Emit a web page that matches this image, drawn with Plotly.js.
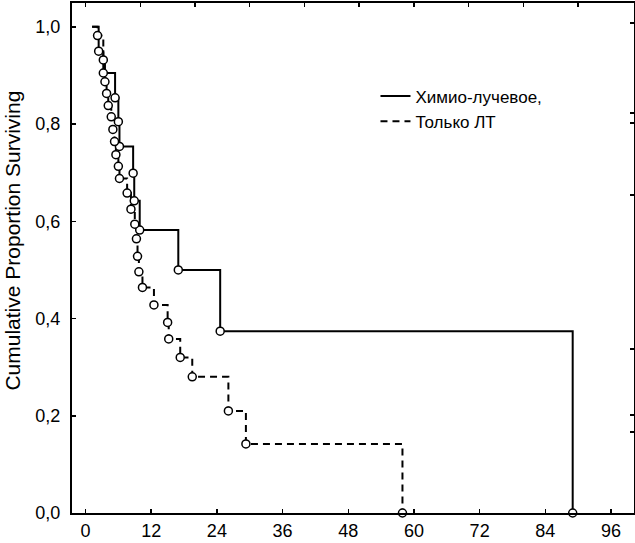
<!DOCTYPE html>
<html>
<head>
<meta charset="utf-8">
<script src="https://cdn.plot.ly/plotly-3.0.1.min.js"></script>
<style>
html,body{margin:0;padding:0;background:#fff;}
#chart{width:635px;height:543px;}
</style>
</head>
<body>
<div id="chart"></div>
<script>
// Series names
const seriesNames = ["Химио-лучевое,", "Только ЛТ"];
const yTitle = "Cumulative Proportion Surviving";

// Start of follow-up (both curves start at S = 1)
const startTime = 1.2;
const startSurv = 1.0;

// Химио-лучевое (solid): event times (months) and survival after each event
const chemoTimes = [2.4, 3.25, 5.4, 6.0, 6.2, 8.7, 8.9, 9.9, 16.95, 24.6, 89.0];
const chemoSurv  = [0.95, 0.905, 0.854, 0.805, 0.754, 0.699, 0.642, 0.582, 0.500, 0.374, 0.0];

// Только ЛТ (dashed): event times (months) and survival after each event
const rtTimes = [2.2, 3.25, 3.55, 3.85, 4.15, 4.7, 5.0, 5.3, 5.55, 6.0, 6.2, 7.6, 8.3, 9.0, 9.3, 9.5, 9.75, 10.4, 12.5, 15.0, 15.2, 17.3, 19.5, 26.1, 29.3, 57.9];
const rtSurv  = [0.982, 0.932, 0.887, 0.863, 0.838, 0.815, 0.789, 0.764, 0.737, 0.713, 0.688, 0.658, 0.625, 0.594, 0.564, 0.528, 0.496, 0.464, 0.428, 0.392, 0.358, 0.320, 0.280, 0.210, 0.142, 0.0];

// Axis ticks
const xTicks = [0, 12, 24, 36, 48, 60, 72, 84, 96];
const yTicks = [0, 0.2, 0.4, 0.6, 0.8, 1.0];
const topTicks = [0, 10, 20, 30, 40, 50, 60, 70, 80, 90];

const FONT = '"Liberation Sans", Arial, sans-serif';

function stepTrace(times, surv, name, dash, group) {
  return {
    x: [startTime].concat(times),
    y: [startSurv].concat(surv),
    type: 'scatter', mode: 'lines', name: name,
    legendgroup: group,
    line: {shape: 'hv', color: '#000', width: 2, dash: dash},
    hoverinfo: 'skip'
  };
}
function markTrace(times, surv) {
  return {
    x: times, y: surv, type: 'scatter', mode: 'markers', showlegend: false,
    marker: {symbol: 'circle', size: 8, color: '#fff', line: {color: '#000', width: 1.5}},
    hoverinfo: 'skip', cliponaxis: false
  };
}

const data = [
  stepTrace(chemoTimes, chemoSurv, seriesNames[0], 'solid', 'a'),
  stepTrace(rtTimes, rtSurv, seriesNames[1], '7px,5px', 'b'),
  markTrace(chemoTimes, chemoSurv),
  markTrace(rtTimes, rtSurv),
  // invisible helper trace for the top / right frame ticks
  {x: [0], y: [0], xaxis: 'x2', yaxis: 'y2', type: 'scatter', mode: 'markers',
   marker: {opacity: 0}, showlegend: false, hoverinfo: 'skip'}
];

const layout = {
  width: 635, height: 543,
  margin: {l: 72, r: 1, t: 3, b: 30, pad: 0},
  paper_bgcolor: '#fff', plot_bgcolor: '#fff',
  separators: ', ',
  font: {family: FONT, size: 18, color: '#000'},
  showlegend: true,
  legend: {
    x: 0.54, y: 0.852, xanchor: 'left', yanchor: 'top',
    bgcolor: 'rgba(0,0,0,0)', borderwidth: 0,
    font: {family: FONT, size: 17, color: '#000'},
    tracegroupgap: 0, itemwidth: 30
  },
  annotations: [{
    text: yTitle, textangle: -90, showarrow: false,
    xref: 'paper', yref: 'paper', x: -0.106, y: 0.535,
    xanchor: 'center', yanchor: 'middle',
    font: {family: FONT, size: 21, color: '#000'}
  }],
  xaxis: {
    range: [-2.47, 100.2], tickvals: xTicks, ticktext: xTicks.map(String),
    ticks: 'inside', ticklen: 4, tickwidth: 1.5, tickcolor: '#000',
    showline: true, linecolor: '#000', linewidth: 2, mirror: true,
    showgrid: false, zeroline: false, tickfont: {size: 18},
    automargin: false
  },
  yaxis: {
    range: [0, 1.049], tickvals: yTicks, tickformat: '.1f',
    ticks: 'inside', ticklen: 4, tickwidth: 1.5, tickcolor: '#000',
    showline: true, linecolor: '#000', linewidth: 2, mirror: true,
    showgrid: false, zeroline: false, tickfont: {size: 18},
    ticklabelstandoff: 6,
    automargin: false
  },
  xaxis2: {
    overlaying: 'x', side: 'top', range: [-2.47, 100.2], tickvals: topTicks,
    ticks: 'inside', ticklen: 4, tickwidth: 1.5, tickcolor: '#000',
    showticklabels: false, showline: false, showgrid: false, zeroline: false
  },
  yaxis2: {
    overlaying: 'y', side: 'right', range: [0, 1.049],
    tickvals: [1.008, 0.823, 0.802, 0.654, 0.337, 0.202, 0.167],
    ticks: 'inside', ticklen: 4, tickwidth: 1.5, tickcolor: '#000',
    showticklabels: false, showline: false, showgrid: false, zeroline: false
  }
};

Plotly.newPlot('chart', data, layout, {staticPlot: true, displayModeBar: false});
</script>
</body>
</html>
